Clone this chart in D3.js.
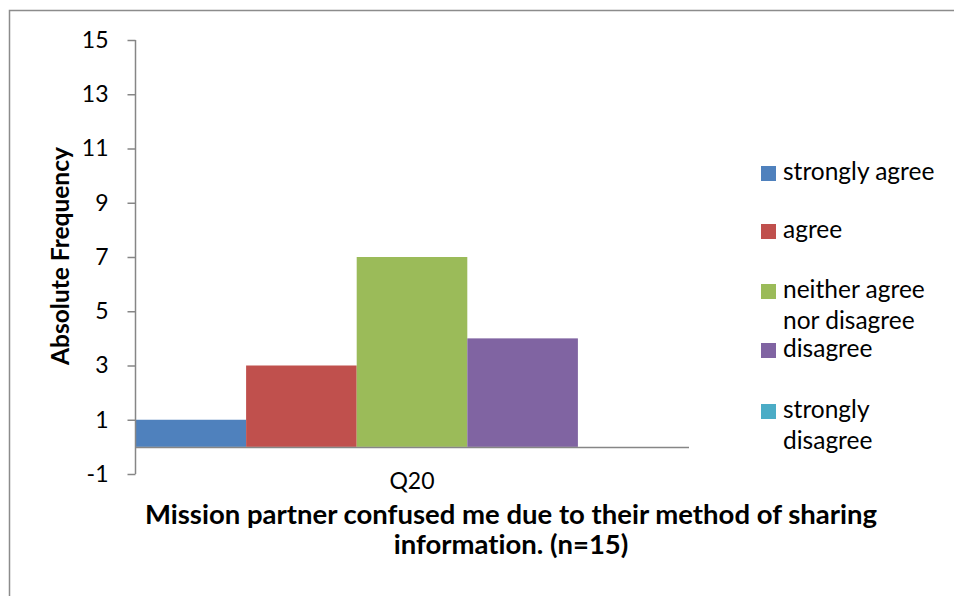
<!DOCTYPE html>
<html><head><meta charset="utf-8">
<script src="https://cdn.jsdelivr.net/npm/d3@7"></script>
<style>body{margin:0;background:#fff}svg{display:block;font-family:Lato,"Open Sans",sans-serif;font-variant-ligatures:none;font-feature-settings:"liga" 0,"clig" 0}</style>
</head><body>
<svg id="c" width="954" height="596"></svg>
<script>
const categories = ["Q20"];
const seriesNames = ["strongly agree","agree","neither agree nor disagree","disagree","strongly disagree"];
const seriesValues = [1,3,7,4,0];
const seriesColors = ["#4F81BD","#C0504D","#9BBB59","#8064A2","#4BACC6"];
const legendLines = [["strongly agree"],["agree"],["neither agree","nor disagree"],["disagree"],["strongly","disagree"]];
const yTicks = [-1,1,3,5,7,9,11,13,15];
const yTitle = "Absolute Frequency";
const xTitleLines = ["Mission partner confused me due to their method of sharing","information. (n=15)"];

const svg = d3.select("#c");
const axisColor = "#868686";

// outer chart border (top and left visible)
svg.append("path").attr("d","M9.5,596 V10.5 H954").attr("fill","none").attr("stroke","#8c8c8c").attr("stroke-width",1.5);

const y = d3.scaleLinear().domain([-1,15]).range([474,40]);
const x = d3.scaleBand().domain(categories).range([135.5,688.5]).padding(0);
const xs = d3.scaleBand().domain(seriesNames).range([0,x.bandwidth()]).padding(0);

// bars
const g = svg.append("g");
categories.forEach(cat=>{
  g.selectAll("rect.b").data(seriesNames.map((s,i)=>({s,v:seriesValues[i],c:seriesColors[i]})))
   .enter().append("rect")
   .attr("x",d=>x(cat)+xs(d.s))
   .attr("width",xs.bandwidth())
   .attr("y",d=>Math.min(y(d.v),y(0)))
   .attr("height",d=>Math.abs(y(0)-y(d.v)))
   .attr("fill",d=>d.c);
});

// y axis
const yAxis = d3.axisLeft(y).tickValues(yTicks).tickSize(8).tickPadding(19).tickFormat(d=>String(d));
const ya = svg.append("g").attr("transform","translate(135.5,0)").call(yAxis);
ya.select(".domain").attr("stroke",axisColor).attr("stroke-width",1.5).attr("d","M0,474V40");
ya.selectAll(".tick line").attr("stroke",axisColor).attr("stroke-width",1.5);
ya.selectAll(".tick text").attr("fill","#000").attr("font-size",23).attr("font-family","Lato");

// x axis at zero
const xa = svg.append("g").attr("transform",`translate(0,${y(0)})`).call(d3.axisBottom(x).tickSize(0).tickPadding(0));
xa.select(".domain").attr("stroke",axisColor).attr("stroke-width",1.5);
xa.selectAll(".tick text").remove();
svg.append("g").selectAll("text").data(categories).enter().append("text")
  .attr("x",d=>x(d)+x.bandwidth()/2).attr("y",489).attr("text-anchor","middle")
  .attr("font-size",23).text(d=>d);

// y title
svg.append("text").attr("transform","translate(69,256) rotate(-90)").attr("text-anchor","middle")
  .attr("font-size",24.5).attr("font-weight","bold").text(yTitle);

// x title
svg.append("g").selectAll("text").data(xTitleLines).enter().append("text")
  .attr("x",511).attr("y",(d,i)=>524+i*30).attr("text-anchor","middle")
  .attr("font-size",27.5).attr("font-weight","bold").text(d=>d);

// legend
const legTops = [166,224,284,343,404];
const lg = svg.append("g");
seriesNames.forEach((s,i)=>{
  lg.append("rect").attr("x",761).attr("y",legTops[i]).attr("width",15).attr("height",15).attr("fill",seriesColors[i]);
  legendLines[i].forEach((t,j)=>{
    lg.append("text").attr("x",783).attr("y",legTops[i]+14+j*31).attr("font-size",24.5).text(t);
  });
});
</script>
</body></html>
